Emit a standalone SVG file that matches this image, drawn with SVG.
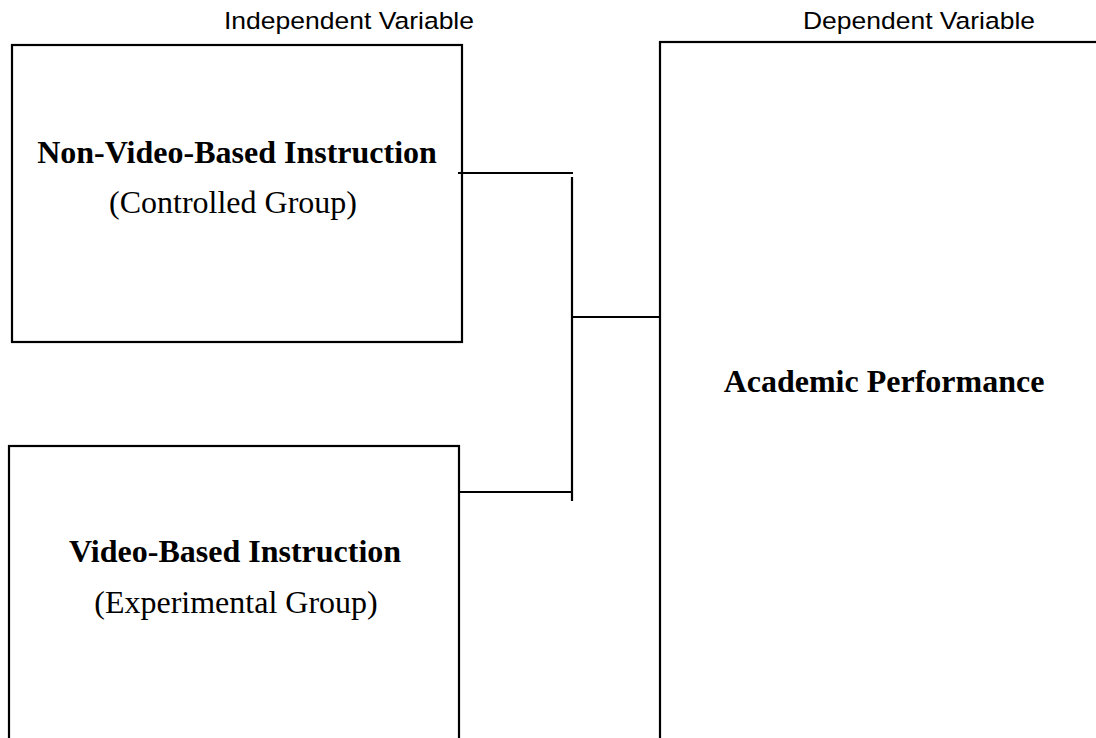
<svg xmlns="http://www.w3.org/2000/svg" width="1096" height="738" viewBox="0 0 1096 738">
<style>
.box{fill:none;stroke:#000;stroke-width:2.2}
.ln{stroke:#000;stroke-width:2.2;fill:none}
.lab{font-family:"Liberation Sans",Arial,sans-serif;font-size:24.5px;fill:#000}
.ttl{font-family:"Liberation Serif","Times New Roman",serif;font-size:32px;font-weight:bold;fill:#000;text-anchor:middle}
.sub{font-family:"Liberation Serif","Times New Roman",serif;font-size:32px;fill:#000;text-anchor:middle}
</style>
<rect width="1096" height="738" fill="#fff"/>
<text class="lab" x="224" y="29" textLength="250" lengthAdjust="spacingAndGlyphs">Independent Variable</text>
<text class="lab" x="803" y="29" textLength="232" lengthAdjust="spacingAndGlyphs">Dependent Variable</text>
<g id="non-video">
<rect class="box" x="12" y="45" width="450" height="297"/>
<text class="ttl" x="237" y="163">Non-Video-Based Instruction</text>
<text class="sub" x="233" y="213">(Controlled Group)</text>
</g>
<g id="video">
<rect class="box" x="9" y="446" width="450" height="320"/>
<text class="ttl" x="235" y="562">Video-Based Instruction</text>
<text class="sub" x="236" y="613">(Experimental Group)</text>
</g>
<g id="academic">
<rect class="box" x="660" y="42" width="460" height="720"/>
<text class="ttl" x="884" y="392">Academic Performance</text>
</g>
<g id="connectors">
<line class="ln" x1="458" y1="173" x2="573" y2="173"/>
<line class="ln" x1="572" y1="177" x2="572" y2="501"/>
<line class="ln" x1="572" y1="317" x2="660" y2="317"/>
<line class="ln" x1="458" y1="492" x2="572" y2="492"/>
</g>
</svg>
